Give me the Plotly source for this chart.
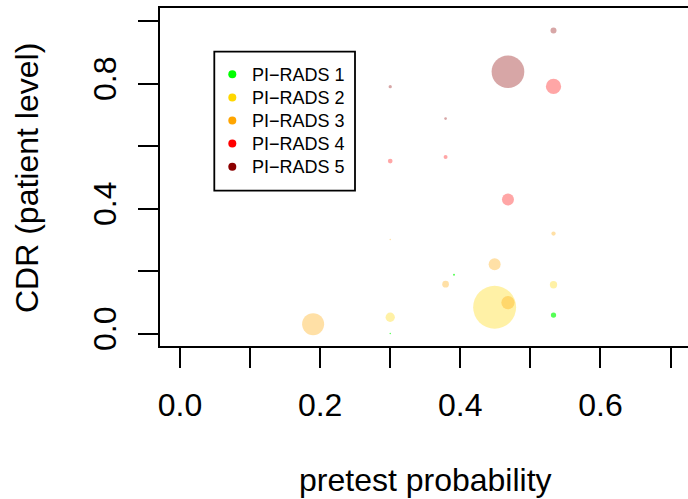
import plotly.graph_objects as go

# ---- data ----
categories = ["PI\u2212RADS 1", "PI\u2212RADS 2", "PI\u2212RADS 3", "PI\u2212RADS 4", "PI\u2212RADS 5"]

pirads1_x = [0.391, 0.533, 0.300]
pirads1_y = [0.188, 0.059, 0.000]
pirads1_n = [2.0, 5.3, 1.5]

pirads2_x = [0.449, 0.533, 0.300]
pirads2_y = [0.084, 0.156, 0.052]
pirads2_n = [43.0, 7.3, 9.3]

pirads3_x = [0.190, 0.300, 0.533, 0.449, 0.379, 0.468]
pirads3_y = [0.030, 0.301, 0.320, 0.222, 0.158, 0.099]
pirads3_n = [22.0, 1.5, 4.3, 12.0, 6.7, 13.3]

pirads4_x = [0.300, 0.379, 0.468, 0.533]
pirads4_y = [0.552, 0.565, 0.429, 0.791]
pirads4_n = [4.7, 4.0, 12.0, 15.3]

pirads5_x = [0.533, 0.468, 0.300, 0.379]
pirads5_y = [0.970, 0.838, 0.790, 0.688]
pirads5_n = [6.0, 32.7, 3.3, 2.7]

x_ticks = [0.0, 0.1, 0.2, 0.3, 0.4, 0.5, 0.6, 0.7]
x_ticktext = ["0.0", "", "0.2", "", "0.4", "", "0.6", ""]
y_ticks = [0.0, 0.2, 0.4, 0.6, 0.8, 1.0]
y_ticktext = ["0.0", "", "0.4", "", "0.8", ""]

# ---- styles ----
solid_colors = ["#00FF00", "#FFD700", "#FFA500", "#FF0000", "#8B0000"]
fill_colors = ["rgba(0,255,0,0.95)", "rgba(255,215,0,0.5)", "rgba(255,165,0,0.5)",
               "rgba(255,0,0,0.5)", "rgba(139,0,0,0.5)"]
FONT = "Liberation Sans, Arial, Helvetica, sans-serif"

W, H = 688, 499
ML, MR, MT, MB = 160, 0, 8, 153
PW, PH = W - ML - MR, H - MT - MB


def px_x(p):
    return (p - ML) / PW


def px_y(p):
    return (H - MB - p) / PH


series = [
    (pirads1_x, pirads1_y, pirads1_n),
    (pirads2_x, pirads2_y, pirads2_n),
    (pirads3_x, pirads3_y, pirads3_n),
    (pirads4_x, pirads4_y, pirads4_n),
    (pirads5_x, pirads5_y, pirads5_n),
]

fig = go.Figure()
for (xs, ys, ns), col, name in zip(series, fill_colors, categories):
    fig.add_trace(go.Scatter(
        x=xs, y=ys, mode="markers", showlegend=False, name=name, hoverinfo="skip",
        marker=dict(size=ns, sizemode="diameter", color=col, line=dict(width=0)),
    ))

axis_common = dict(
    showgrid=False, zeroline=False, showline=True, linecolor="black", linewidth=1.8,
    ticks="outside", ticklen=20, tickwidth=1.8, tickcolor="black",
    tickfont=dict(family=FONT, size=32, color="black"),
)

# ---- manual legend (box, dots, labels) ----
leg_left, leg_top, leg_right, leg_bottom = 214.3, 51.7, 355.0, 190.7
row_y0, row_dy = 74.3, 23.1
dot_x, text_x = 232.3, 249.5

shapes = [dict(type="rect", xref="paper", yref="paper",
               x0=px_x(leg_left), x1=px_x(leg_right),
               y0=px_y(leg_bottom), y1=px_y(leg_top),
               line=dict(color="black", width=1.8), fillcolor="white", layer="above")]
annotations = []
for i, (name, col) in enumerate(zip(categories, solid_colors)):
    cy = row_y0 + i * row_dy
    shapes.append(dict(type="circle", xref="paper", yref="paper",
                       xsizemode="pixel", ysizemode="pixel",
                       xanchor=px_x(dot_x), yanchor=px_y(cy),
                       x0=-4, x1=4, y0=-4, y1=4,
                       fillcolor=col, line=dict(width=0), layer="above"))
    annotations.append(dict(text=name, xref="paper", yref="paper",
                            x=px_x(text_x), y=px_y(cy + 0.5), xanchor="left", yanchor="middle",
                            showarrow=False, font=dict(family=FONT, size=18, color="black")))

annotations += [
    dict(text="pretest probability", xref="paper", yref="paper",
         x=px_x(425.5), y=px_y(480), xanchor="center", yanchor="middle",
         showarrow=False, font=dict(family=FONT, size=32, color="black")),
    dict(text="CDR (patient level)", xref="paper", yref="paper",
         x=px_x(27), y=px_y(178), xanchor="center", yanchor="middle", textangle=-90,
         showarrow=False, font=dict(family=FONT, size=32, color="black")),
]

fig.update_layout(
    width=W, height=H,
    margin=dict(l=ML, r=MR, t=MT, b=MB, autoexpand=False),
    paper_bgcolor="white", plot_bgcolor="white",
    font=dict(family=FONT, color="black"),
    showlegend=False,
    xaxis=dict(range=[-0.0285, 0.7249], tickvals=x_ticks, ticktext=x_ticktext,
               mirror=True, ticklabelstandoff=10, automargin=False, **axis_common),
    yaxis=dict(range=[-0.04, 1.042], tickvals=y_ticks, ticktext=y_ticktext,
               tickangle=-90, ticklabelstandoff=9, automargin=False, **axis_common),
    shapes=shapes,
    annotations=annotations,
)

fig.write_html("out.html", config={"displayModeBar": False},
               post_script="document.body.style.margin='0px';")
